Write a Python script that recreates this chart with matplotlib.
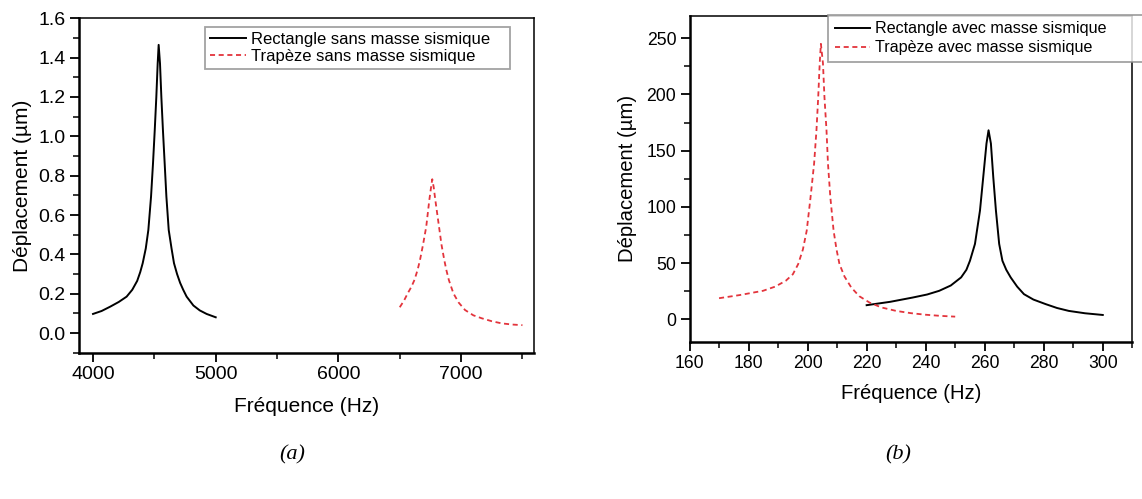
import matplotlib
matplotlib.use('Agg')
import matplotlib.pyplot as plt
from matplotlib.ticker import MultipleLocator, FormatStrFormatter

plt.rcParams['font.family'] = ['Liberation Sans', 'DejaVu Sans']

# (a) sans masse sismique
rect_a_freq = [4000, 4070, 4140, 4210, 4274, 4320, 4360, 4385, 4405, 4430, 4451, 4473,
               4489, 4503, 4516, 4527, 4535, 4546, 4557, 4570, 4584, 4598, 4617, 4640,
               4660, 4685, 4710, 4735, 4763, 4818, 4870, 4926, 5000]
rect_a_disp = [0.097, 0.112, 0.134, 0.158, 0.185, 0.22, 0.265, 0.31, 0.355, 0.43, 0.524, 0.694,
               0.863, 1.03, 1.20, 1.37, 1.465, 1.37, 1.20, 1.03, 0.863, 0.694, 0.524, 0.43,
               0.355, 0.30, 0.255, 0.22, 0.185, 0.14, 0.115, 0.097, 0.08]
trap_a_freq = [6500, 6535, 6565, 6595, 6620, 6645, 6665, 6690, 6716, 6741, 6755, 6765,
               6777, 6790, 6820, 6840, 6863, 6880, 6900, 6937, 6980, 7032, 7100, 7168,
               7250, 7331, 7420, 7500]
trap_a_disp = [0.131, 0.165, 0.202, 0.235, 0.27, 0.32, 0.371, 0.45, 0.541, 0.676, 0.74, 0.782,
               0.74, 0.676, 0.541, 0.45, 0.371, 0.32, 0.27, 0.202, 0.155, 0.117, 0.09, 0.075,
               0.06, 0.049, 0.043, 0.04]

# (b) avec masse sismique
rect_b_freq = [220, 228, 235.6, 240.5, 244.6, 248.5, 252, 253.8, 255, 256.7, 258.4, 259.5,
               260.6, 261.3, 262.1, 262.9, 263.8, 264.9, 266, 267.3, 268.8, 271, 273.3,
               276.5, 280.7, 284.5, 288.5, 294, 300]
rect_b_disp = [12.5, 15.5, 19.3, 22, 25.3, 30, 37.2, 44, 52, 67, 96.7, 126.4,
               156.3, 168.1, 156.3, 126.4, 96.7, 67, 52, 44, 37.2, 29, 22.3,
               17.5, 13.4, 10, 7.4, 5.3, 3.8]
trap_b_freq = [170, 177, 184.9, 189, 192.6, 195, 196.8, 198.4, 199.7, 201.0, 202.2, 203.0,
               203.6, 204.1, 204.5, 205.2, 205.7, 206.4, 206.9, 207.7, 208.8, 209.8, 210.8,
               212.5, 214.8, 217.5, 221, 225, 230, 235, 240, 245, 250]
trap_b_disp = [18.7, 21.5, 25.3, 29, 34.2, 40, 49, 62, 78.8, 108.6, 138.4, 168.1,
               197.9, 227.7, 245, 227.7, 197.9, 168.1, 138.4, 108.6, 78.8, 62, 49,
               38, 28.2, 20.5, 14.8, 10.5, 7.4, 5.4, 4, 3, 2.3]

red = '#e3343c'

fig = plt.figure(figsize=(11.42, 4.99), dpi=100)
ax1 = fig.add_axes([0.0692, 0.2932, 0.3987, 0.6701])
ax2 = fig.add_axes([0.6038, 0.3152, 0.3877, 0.6533])


def style(ax, size):
    ax.spines['left'].set_linewidth(1.8)
    ax.spines['bottom'].set_linewidth(1.8)
    ax.spines['top'].set_linewidth(1.1)
    ax.spines['right'].set_linewidth(1.1)
    ax.tick_params(which='major', direction='out', length=6.5, width=1.3,
                   labelsize=size, pad=3, top=False, right=False)
    ax.tick_params(which='minor', direction='out', length=4, width=1.1,
                   top=False, right=False)


def add_legend(ax, box, size, spacing, pad):
    # box = (left, top, width) in figure pixels
    x0, top, w = box
    leg = ax.legend(loc='upper left',
                    bbox_to_anchor=(x0 / 1142, 1 - top / 499 - 0.1, w / 1142, 0.1),
                    bbox_transform=fig.transFigure, mode='expand', fontsize=size,
                    frameon=True, fancybox=False, handlelength=2.2, borderpad=pad,
                    labelspacing=spacing, handletextpad=0.28, borderaxespad=0)
    leg.get_frame().set_edgecolor('#8c8c8c')
    leg.get_frame().set_linewidth(1.3)
    return leg


ax1.plot(rect_a_freq, rect_a_disp, color='black', lw=1.4, label='Rectangle sans masse sismique')
ax1.plot(trap_a_freq, trap_a_disp, color=red, lw=1.3, dashes=(2.8, 2.0), label='Trapèze sans masse sismique')
ax1.set_xlim(3886, 7597)
ax1.set_ylim(-0.1, 1.6)
ax1.xaxis.set_major_locator(MultipleLocator(1000))
ax1.xaxis.set_minor_locator(MultipleLocator(500))
ax1.yaxis.set_major_locator(MultipleLocator(0.2))
ax1.yaxis.set_minor_locator(MultipleLocator(0.1))
ax1.yaxis.set_major_formatter(FormatStrFormatter('%.1f'))
style(ax1, 14)
ax1.set_xlabel('Fréquence (Hz)', fontsize=15, labelpad=10)
ax1.set_ylabel('Déplacement (µm)', fontsize=15, labelpad=5)
add_legend(ax1, (204.6, 26.7, 305), 12, 0.15, 0.3)

ax2.plot(rect_b_freq, rect_b_disp, color='black', lw=1.4, label='Rectangle avec masse sismique')
ax2.plot(trap_b_freq, trap_b_disp, color=red, lw=1.3, dashes=(2.8, 2.0), label='Trapèze avec masse sismique')
ax2.set_xlim(160, 310)
ax2.set_ylim(-20, 270)
ax2.xaxis.set_major_locator(MultipleLocator(20))
ax2.xaxis.set_minor_locator(MultipleLocator(10))
ax2.yaxis.set_major_locator(MultipleLocator(50))
ax2.yaxis.set_minor_locator(MultipleLocator(25))
style(ax2, 12.7)
ax2.set_xlabel('Fréquence (Hz)', fontsize=14.6, labelpad=9)
ax2.set_ylabel('Déplacement (µm)', fontsize=14.6, labelpad=7)
add_legend(ax2, (828.4, 15, 330), 11.6, 0.25, 0.4)

fig.text(292 / 1142, 1 - 455 / 499, '(a)', fontsize=16, style='italic',
         family='Liberation Serif', ha='center', va='center')
fig.text(898 / 1142, 1 - 455 / 499, '(b)', fontsize=16, style='italic',
         family='Liberation Serif', ha='center', va='center')

fig.savefig('out.png', dpi=100)
